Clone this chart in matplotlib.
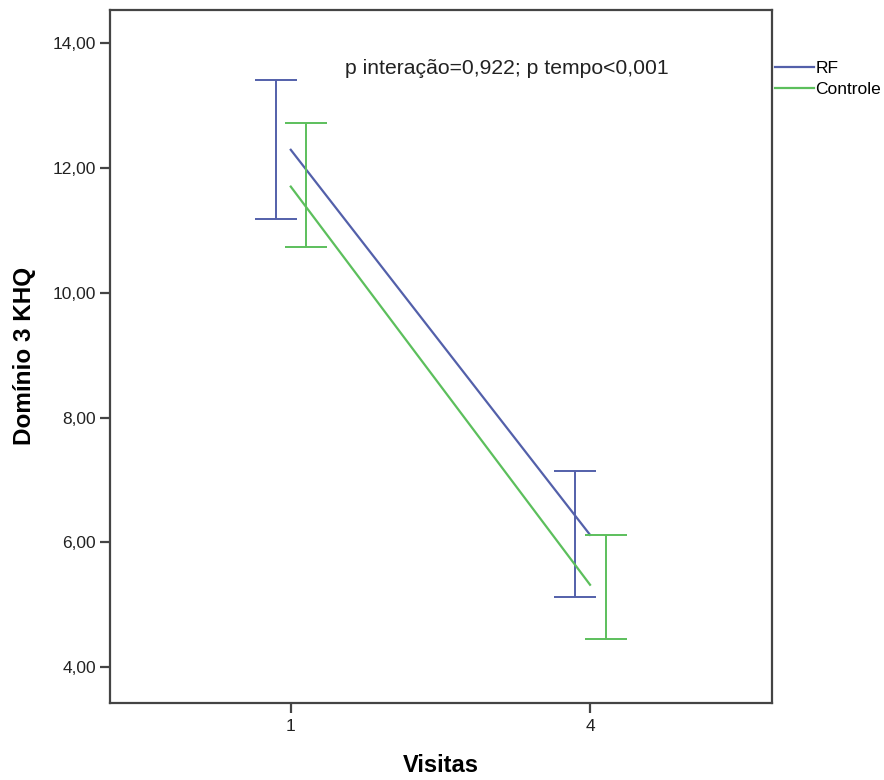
import matplotlib.pyplot as plt
import numpy as np

plt.rcParams['font.family'] = ['Liberation Sans', 'DejaVu Sans']

# --- Data (estimated marginal means with 95% CI) ---
visits = ['1', '4']
groups = ['RF', 'Controle']
means = {'RF': [12.29, 6.12], 'Controle': [11.70, 5.32]}
ci_low = {'RF': [11.18, 5.13], 'Controle': [10.73, 4.45]}
ci_high = {'RF': [13.41, 7.15], 'Controle': [12.72, 6.12]}
colors = {'RF': '#5360aa', 'Controle': '#5cbf5c'}
offsets = {'RF': -0.05, 'Controle': 0.052}
yticks = [4, 6, 8, 10, 12, 14]
note = 'p interação=0,922; p tempo<0,001'

# --- Plotting ---
fig = plt.figure(figsize=(8.84, 7.8), dpi=100)
ax = fig.add_axes([110/884, 1 - 702.7/780, 662/884, 692.7/780])

x = np.arange(len(visits))
for g in groups:
    m = np.array(means[g])
    lo = m - np.array(ci_low[g])
    hi = np.array(ci_high[g]) - m
    ax.plot(x, m, color=colors[g], lw=1.6, label=g)
    ax.errorbar(x + offsets[g], m, yerr=[lo, hi], fmt='none',
                ecolor=colors[g], elinewidth=1.4, capsize=15, capthick=1.4)

ax.set_xlim(-0.604, 1.608)
ax.set_ylim(3.43, 14.53)
ax.set_xticks(x)
ax.set_xticklabels(visits)
ax.set_yticks(yticks)
ax.set_yticklabels([f'{v:.2f}'.replace('.', ',') for v in yticks])

for s in ax.spines.values():
    s.set_color('#444444')
    s.set_linewidth(1.6)
ax.tick_params(direction='out', length=7, width=1.6, color='#444444',
               labelsize=12.5, labelcolor='#222222', pad=3)
ax.tick_params(axis='x', pad=5)

ax.set_xlabel('Visitas', fontsize=17, fontweight='bold', labelpad=14)
ax.set_ylabel('Domínio 3 KHQ', fontsize=17.5, fontweight='bold', labelpad=12)

ax.text(0.355, 0.915, note, transform=ax.transAxes, fontsize=15.2,
        va='center', ha='left', color='#222222')

ax.legend(loc='upper left', bbox_to_anchor=(1.005, 0.927), frameon=False,
          fontsize=12.5, handlelength=2.2, handletextpad=0.1,
          labelspacing=0.35, borderpad=0, borderaxespad=0)

fig.savefig('out.png', dpi=100)
